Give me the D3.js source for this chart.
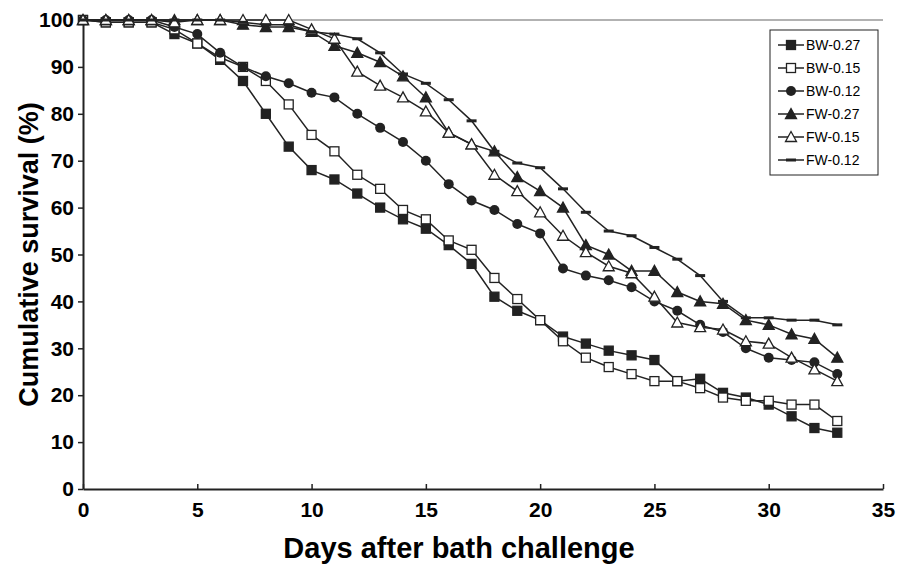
<!DOCTYPE html>
<html><head><meta charset="utf-8">
<script src="https://cdn.jsdelivr.net/npm/d3@7"></script>
<style>body{margin:0;background:#fff}</style>
</head><body><div id="chart"></div>
<script>
const days = d3.range(0, 34);
const seriesNames = ["BW-0.27", "BW-0.15", "BW-0.12", "FW-0.27", "FW-0.15", "FW-0.12"];
const bw027 = [100,99.5,99.5,99.5,97,95,91.5,87,80,73,68,66,63,60,57.5,55.5,52,48,41,38,36,32.5,31,29.5,28.5,27.5,23,23.5,20.5,19.5,18,15.5,13,12];
const bw015 = [100,99.5,99.5,99.5,98,95,92,90,87,82,75.5,72,67,64,59.5,57.5,53,51,45,40.5,36,31.5,28,26,24.5,23,23,21.5,19.5,18.8,18.8,18,18,14.5];
const bw012 = [100,100,100,100,98.5,97,93,90,88,86.5,84.5,83.5,80,77,74,70,65,61.5,59.5,56.5,54.5,47,45.5,44.5,43,40,38,35,33.5,30,28,27.5,27,24.5];
const fw027 = [100,100,100,100,100,100,100,99,98.5,98.5,97.5,94.5,93,91,88,83.5,76,73.5,72,66.5,63.5,60,52,50,46.5,46.5,42,40,39.5,36,35,33,32,28];
const fw015 = [100,100,100,100,99.5,100,100,100,100,100,98,96,89,86,83.5,80.5,76,73.5,67,63.5,59,54,50.5,47.5,46,41,35.5,34.5,34,31.5,31,28,25.5,23];
const fw012 = [100,100,100,100,100,100,100,99.5,99,99,97.5,97,96,93,88.5,86.5,83,78.5,72,69.5,68.5,64,59,55,54,51.5,49,45.5,40,36.5,36.5,36,36,35];
const seriesValues = [bw027, bw015, bw012, fw027, fw015, fw012];
const xTicks = [0,5,10,15,20,25,30,35];
const yTicks = [0,10,20,30,40,50,60,70,80,90,100];
const markerTypes = ["sqFill", "sqOpen", "circle", "triFill", "triOpen", "dash"];

const width = 906, height = 568;
const margin = { top: 20, right: 23, bottom: 79, left: 83 };
const ink = "#222";

const svg = d3.select("#chart").append("svg")
  .attr("width", width).attr("height", height)
  .style("font-family", "Liberation Sans, Arial, sans-serif");

const x = d3.scaleLinear().domain([0, 35]).range([margin.left, width - margin.right]);
const y = d3.scaleLinear().domain([0, 100]).range([height - margin.bottom, margin.top]);

// top border line
svg.append("line").attr("x1", x(0)).attr("x2", x(35)).attr("y1", y(100)).attr("y2", y(100))
  .attr("stroke", "#999").attr("stroke-width", 1.5);

const xAxis = svg.append("g").attr("transform", `translate(0,${y(0)})`)
  .call(d3.axisBottom(x).tickValues(xTicks).tickSize(5).tickSizeOuter(0));
const yAxis = svg.append("g").attr("transform", `translate(${x(0)},0)`)
  .call(d3.axisLeft(y).tickValues(yTicks).tickSize(5).tickSizeOuter(0));
[xAxis, yAxis].forEach(g => {
  g.select(".domain").attr("stroke", ink).attr("stroke-width", 2);
  g.selectAll(".tick line").attr("stroke", ink).attr("stroke-width", 1.5);
  g.selectAll(".tick text").attr("fill", "#000").style("font-size", "21px").style("font-weight", "bold");
});
xAxis.selectAll(".tick line").attr("y2", -5);
xAxis.selectAll(".tick text").attr("y", 10).attr("dy", "0.85em");
yAxis.selectAll(".tick text").attr("x", -9);

svg.append("text").attr("x", 459).attr("y", 558).attr("text-anchor", "middle")
  .style("font-size", "29px").style("font-weight", "bold").text("Days after bath challenge");
svg.append("text").attr("transform", `translate(38,${y(50)}) rotate(-90)`).attr("text-anchor", "middle")
  .style("font-size", "27px").style("font-weight", "bold").text("Cumulative survival (%)");

function drawMarker(g, type, cx, cy) {
  const s = 5;
  if (type === "sqFill" || type === "sqOpen") {
    g.append("rect").attr("x", cx - s + 0.5).attr("y", cy - s + 0.5).attr("width", 2 * s - 1).attr("height", 2 * s - 1)
      .attr("fill", type === "sqFill" ? ink : "#fff").attr("stroke", ink).attr("stroke-width", 1.3);
  } else if (type === "circle") {
    g.append("circle").attr("cx", cx).attr("cy", cy).attr("r", 5).attr("fill", ink);
  } else if (type === "triFill" || type === "triOpen") {
    g.append("path").attr("d", `M${cx},${cy - 5.5}L${cx + 5.5},${cy + 4.5}L${cx - 5.5},${cy + 4.5}Z`)
      .attr("fill", type === "triFill" ? ink : "#fff").attr("stroke", ink).attr("stroke-width", 1.3);
  } else {
    g.append("line").attr("x1", cx - 5).attr("x2", cx + 5).attr("y1", cy).attr("y2", cy)
      .attr("stroke", ink).attr("stroke-width", 3);
  }
}

const line = d3.line().x((d, i) => x(days[i])).y(d => y(d));
seriesValues.forEach((vals, k) => {
  const g = svg.append("g");
  g.append("path").datum(vals).attr("d", line).attr("fill", "none").attr("stroke", ink).attr("stroke-width", 1.5);
  vals.forEach((v, i) => drawMarker(g, markerTypes[k], x(days[i]), y(v)));
});

// legend
const lg = svg.append("g").attr("transform", "translate(770,30)");
lg.append("rect").attr("width", 108).attr("height", 145).attr("fill", "#fff").attr("stroke", ink).attr("stroke-width", 1);
seriesNames.forEach((name, k) => {
  const ly = 15 + k * 23;
  lg.append("line").attr("x1", 8).attr("x2", 34).attr("y1", ly).attr("y2", ly).attr("stroke", ink).attr("stroke-width", 1.5);
  drawMarker(lg, markerTypes[k], 21, ly);
  lg.append("text").attr("x", 36).attr("y", ly + 5).style("font-size", "14px").text(name);
});
</script></body></html>
